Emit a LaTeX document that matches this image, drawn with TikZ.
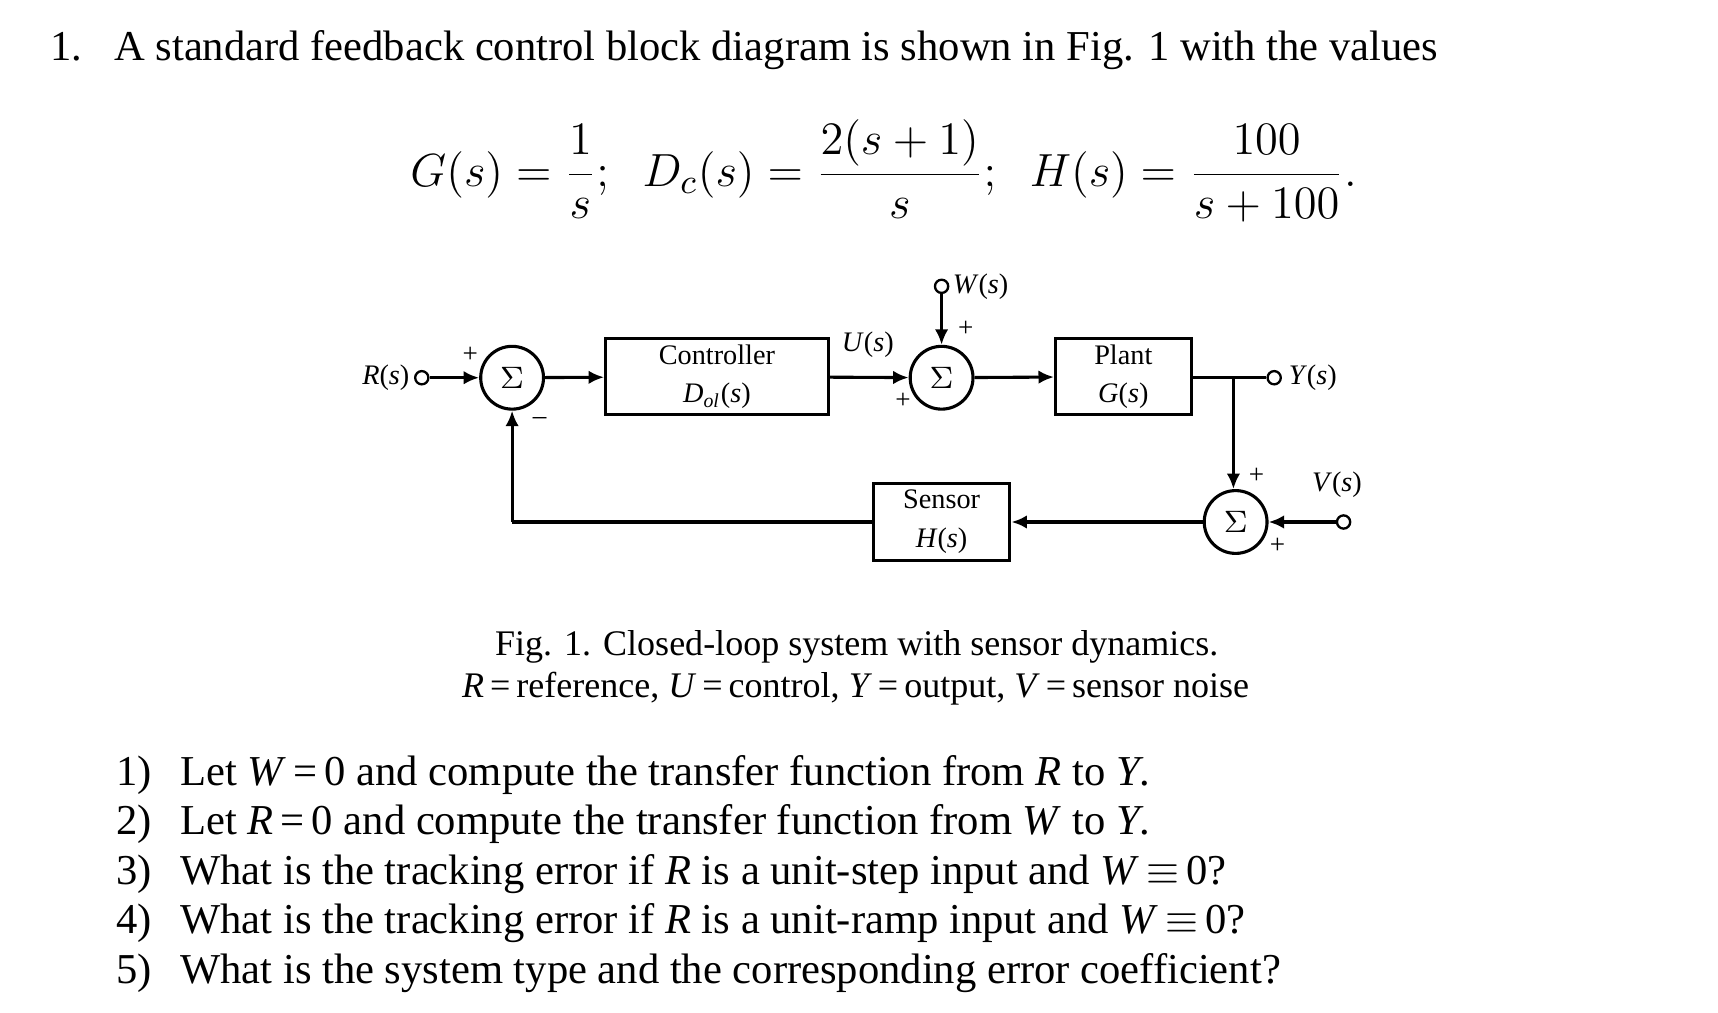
\documentclass[tikz,border=0pt]{standalone}
\usepackage{fontspec}
\setmainfont{Liberation Serif}
\usetikzlibrary{arrows.meta}
\begin{document}
\begin{tikzpicture}[x=0.01cm,y=-0.01cm,
  blk/.style={draw,line width=0.8pt,minimum width=#1,inner sep=0pt,align=center,font=\fontsize{7.3}{10}\selectfont},
  sum/.style={draw,circle,line width=0.8pt,minimum size=0.57cm,inner sep=0pt,font=\fontsize{8}{9}\selectfont},
  term/.style={draw,circle,minimum size=0.12cm,inner sep=0pt,line width=0.6pt},
  lab/.style={font=\fontsize{7.3}{9}\selectfont,inner sep=1pt},
  sg/.style={font=\fontsize{7}{8}\selectfont,inner sep=0pt},
  ar/.style={-{Latex[length=4pt,width=3.5pt]},line width=0.8pt},
  ln/.style={line width=0.8pt},
  txt/.style={font=\fontsize{11}{13}\selectfont,anchor=base west,inner sep=0pt}]
\useasboundingbox (0,0) rectangle (1560,919);
\node[txt] (title) at (45,55) {1.\hspace{0.75em}A standard feedback control block diagram is shown in Fig. 1 with the values};
\node[anchor=west,inner sep=0pt,font=\fontsize{12.5}{15}\selectfont] (eq) at (372,155)
 {$\displaystyle G(s)=\frac{1}{s};\;\; D_c(s)=\frac{2(s+1)}{s};\;\; H(s)=\frac{100}{s+100}.$};
% diagram
\node[term] (r) at (383,343) {};
\node[lab,anchor=east] (rl) at (r.west) {\textit{R}(\textit{s})};
\node[sum] (s1) at (465,343) {$\Sigma$};
\node[blk=2.02cm,minimum height=0.69cm] (c) at (651,342) {Controller\\\textit{D}$_{\mathit{ol}}$(\textit{s})};
\node[sum] (s2) at (855,343) {$\Sigma$};
\node[term] (w) at (855,260) {};
\node[lab,anchor=west] (wl) at (861,260) {\textit{W}(\textit{s})};
\node[blk=1.23cm,minimum height=0.69cm] (p) at (1020,342) {Plant\\\textit{G}(\textit{s})};
\node[term] (y) at (1157,343) {};
\node[lab,anchor=west] (yl) at (1166,343) {\textit{Y}(\textit{s})};
\coordinate (br) at (1120,343);
\node[sum] (s3) at (1122,474) {$\Sigma$};
\node[term] (v) at (1220,474) {};
\node[lab] (vl) at (1214,440) {\textit{V}(\textit{s})};
\node[blk=1.24cm,minimum height=0.70cm] (h) at (855,474) {Sensor\\\textit{H}(\textit{s})};
\coordinate (fb) at (465,474);
\node[lab] (ul) at (788,313) {\textit{U}(\textit{s})};
\draw[ar] (r) -- (s1);
\draw[ar] (s1) -- (c);
\draw[ar] (c) -- (s2);
\draw[ar] (w) -- (s2);
\draw[ar] (s2) -- (p);
\draw[ln] (p.east |- br) -- (y);
\draw[ar] (br) -- (br |- s3.north);
\draw[ar] (v) -- (s3);
\draw[ar] (s3) -- (h);
\draw[ln] (h) -- (fb);
\draw[ar] (fb) -- (s1);
\node[sg] (p1) at (427,322) {+};
\node[sg] (m1) at (490,382) {\textendash};
\node[sg] (p2) at (877,299) {+};
\node[sg] (p3) at (820,364) {+};
\node[sg] (p4) at (1141,432) {+};
\node[sg] (p5) at (1160,496) {+};
% caption
\node[font=\fontsize{9.3}{11}\selectfont,anchor=base,inner sep=0pt] (cap1) at (778,595) {Fig. 1. Closed-loop system with sensor dynamics.};
\node[font=\fontsize{9.3}{11}\selectfont,anchor=base,inner sep=0pt] (cap2) at (777,633) {\textit{R}\,=\,reference, \textit{U}\,=\,control, \textit{Y}\,=\,output, \textit{V}\,=\,sensor noise};
% questions
\foreach \n/\yy/\t in {1/713/{Let \textit{W}\,=\,0 and compute the transfer function from \textit{R} to \textit{Y}.},
 2/758/{Let \textit{R}\,=\,0 and compute the transfer function from \textit{W} to \textit{Y}.},
 3/803/{What is the tracking error if \textit{R} is a unit-step input and \textit{W}\,$\equiv$\,0?},
 4/848/{What is the tracking error if \textit{R} is a unit-ramp input and \textit{W}\,$\equiv$\,0?},
 5/893/{What is the system type and the corresponding error coefficient?}}{
 \node[txt] (qn\n) at (105,\yy) {\n)};
 \node[txt] (q\n) at (163,\yy) {\t};
}
\end{tikzpicture}
\end{document}
